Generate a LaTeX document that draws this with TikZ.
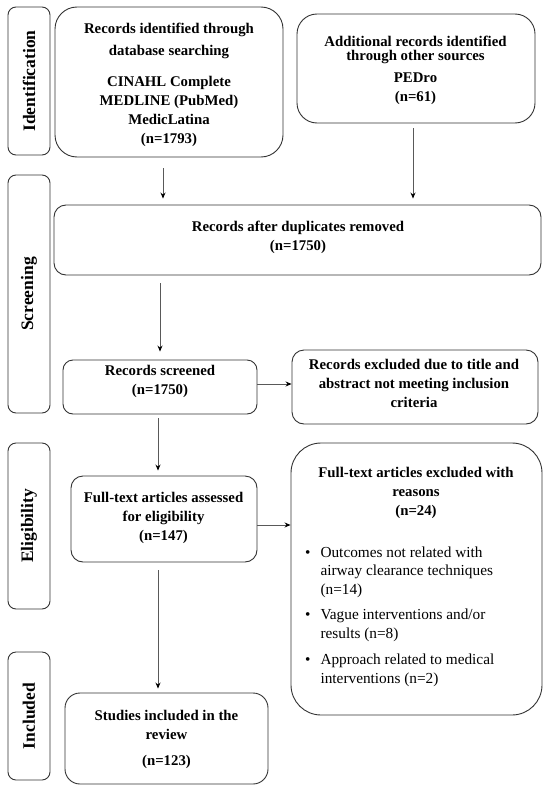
\documentclass[tikz,border=0pt]{standalone}
\usepackage{fontspec}
\setmainfont{Liberation Serif}
\usetikzlibrary{arrows.meta,calc}
\begin{document}
\begin{tikzpicture}[x=1pt,y=-1pt,
  boxshape/.style={draw=black!80, line width=0.9pt, inner sep=0pt},
  txt/.style={align=center, inner sep=0pt, font=\bfseries\fontsize{14.8}{19}\selectfont},
  side/.style={draw=black!80, line width=0.9pt, rounded corners=8pt, inner sep=0pt,
    rotate=90, minimum height=42pt, font=\bfseries\fontsize{17.5}{20}\selectfont},
  arr/.style={draw=black!65, line width=0.8pt, -{Stealth[length=6pt,width=5pt,black]}}]
\useasboundingbox (0,0) rectangle (550,792);
\fill[white] (0,0) rectangle (550,792);

% side stage labels
\node[side, minimum width=148pt] (sid) at (29,81) {Identification};
\node[side, minimum width=238pt] (sscr) at (29,294) {Screening};
\node[side, minimum width=166pt] (selig) at (29,526) {Eligibility};
\node[side, minimum width=128pt] (sinc) at (29,716) {Included};

% boxes
\node[boxshape, rounded corners=22pt, minimum width=228pt, minimum height=150pt] (b1) at (169,82) {};
\node[txt] (b1t) at (169,85) {Records identified through\\[3pt] database searching\\[12pt] CINAHL Complete\\ MEDLINE (PubMed)\\ MedicLatina\\ (n=1793)};

\node[boxshape, rounded corners=20pt, minimum width=238pt, minimum height=109pt] (b2) at (416,68.5) {};
\node[txt] (b2t) at (415.5,70.5) {Additional records identified\\[-5pt] through other sources\\[3pt] PEDro\\ (n=61)};

\node[boxshape, rounded corners=12pt, minimum width=487pt, minimum height=70pt] (b3) at (297.5,240) {};
\node[txt] (b3t) at (298,237.5) {Records after duplicates removed\\ (n=1750)};

\node[boxshape, rounded corners=10pt, minimum width=194pt, minimum height=54pt] (b4) at (160,387) {};
\node[txt] (b4t) at (160,381) {Records screened\\ (n=1750)};

\node[boxshape, rounded corners=12pt, minimum width=246pt, minimum height=74pt] (b5) at (415,387) {};
\node[txt] (b5t) at (414,383) {Records excluded due to title and\\ abstract not meeting inclusion\\ criteria};

\node[boxshape, rounded corners=12pt, minimum width=186pt, minimum height=86pt] (b6) at (164,519) {};
\node[txt] (b6t) at (163.5,518) {Full-text articles assessed\\ for eligibility\\ (n=147)};

\node[boxshape, rounded corners=30pt, minimum width=251pt, minimum height=272pt] (b7) at (416.5,579) {};
\node[txt] (b7t) at (416,493) {Full-text articles excluded with\\ reasons\\ (n=24)};
\node[anchor=north west, inner sep=0pt, font=\fontsize{15.3}{18.5}\selectfont] (b7l) at (305,544) {%
  \begin{tabular}{@{}c@{\hspace{10pt}}l@{}}
  \textbullet & Outcomes not related with\\
   & airway clearance techniques\\
   & (n=14)\\[7pt]
  \textbullet & Vague interventions and/or\\
   & results (n=8)\\[8pt]
  \textbullet & Approach related to medical\\
   & interventions (n=2)
  \end{tabular}};

\node[boxshape, rounded corners=15pt, minimum width=203pt, minimum height=91pt] (b8) at (166.5,738.5) {};
\node[txt] (b8t) at (166.5,739) {Studies included in the\\ review\\[7pt] (n=123)};

% helper coordinates for connector positions
\coordinate (xa) at (163,0);
\coordinate (xb) at (413,0);
\coordinate (xc) at (160,0);
\coordinate (xd) at (158,0);
\coordinate (ya) at (0,384);
\coordinate (yb) at (0,525);

% connectors
\draw[arr, shorten <=11pt, shorten >=6pt] (b1.south -| xa) -- (b3.north -| xa);
\draw[arr, shorten <=5pt, shorten >=6pt] (b2.south -| xb) -- (b3.north -| xb);
\draw[arr, shorten <=8pt, shorten >=8pt] (b3.south -| xc) -- (b4.north -| xc);
\draw[arr, shorten <=4pt, shorten >=5pt] (b4.south -| xd) -- (b6.north -| xd);
\draw[arr, shorten <=8pt, shorten >=4pt] (b6.south -| xd) -- (b8.north -| xd);
\draw[arr] (b4.east |- ya) -- (b5.west |- ya);
\draw[arr] (b6.east |- yb) -- (b7.west |- yb);
\end{tikzpicture}
\end{document}
